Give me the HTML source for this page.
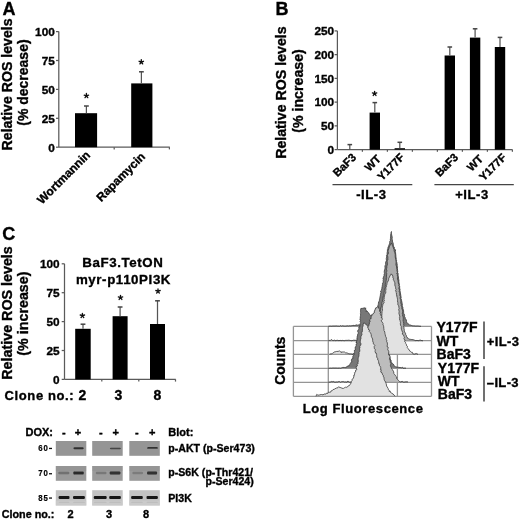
<!DOCTYPE html>
<html><head><meta charset="utf-8"><style>
html,body{margin:0;padding:0;background:#fff;}
svg{display:block;will-change:transform;font-family:"Liberation Sans",sans-serif;font-weight:bold;}
text{stroke:#000;stroke-width:0.35px;}
</style></head><body>
<svg width="520" height="524" viewBox="0 0 520 524" font-family="Liberation Sans, sans-serif" font-weight="bold">
<defs><filter id="soft" x="0" y="0" width="520" height="524" filterUnits="userSpaceOnUse"><feGaussianBlur stdDeviation="0.4"/></filter><filter id="bl" x="-20%" y="-100%" width="140%" height="300%"><feGaussianBlur stdDeviation="0.7"/></filter></defs>
<rect width="520" height="524" fill="#fff"/>
<g filter="url(#soft)">
<rect width="520" height="524" fill="#fff"/>
<text x="2.60" y="14.60" font-size="18" text-anchor="start" >A</text>
<line x1="58.80" y1="31.60" x2="58.80" y2="147.20" stroke="#5a5a5a" stroke-width="1.25"/>
<line x1="56.00" y1="147.20" x2="58.80" y2="147.20" stroke="#5a5a5a" stroke-width="1.25"/>
<text x="54.80" y="151.50" font-size="11.8" text-anchor="end" >0</text>
<line x1="56.00" y1="118.30" x2="58.80" y2="118.30" stroke="#5a5a5a" stroke-width="1.25"/>
<text x="54.80" y="122.60" font-size="11.8" text-anchor="end" >25</text>
<line x1="56.00" y1="89.40" x2="58.80" y2="89.40" stroke="#5a5a5a" stroke-width="1.25"/>
<text x="54.80" y="93.70" font-size="11.8" text-anchor="end" >50</text>
<line x1="56.00" y1="60.50" x2="58.80" y2="60.50" stroke="#5a5a5a" stroke-width="1.25"/>
<text x="54.80" y="64.80" font-size="11.8" text-anchor="end" >75</text>
<line x1="56.00" y1="31.60" x2="58.80" y2="31.60" stroke="#5a5a5a" stroke-width="1.25"/>
<text x="54.80" y="35.90" font-size="11.8" text-anchor="end" >100</text>
<line x1="58.80" y1="147.20" x2="169.80" y2="147.20" stroke="#5a5a5a" stroke-width="1.25"/>
<line x1="114.20" y1="147.20" x2="114.20" y2="149.40" stroke="#5a5a5a" stroke-width="1.25"/>
<line x1="169.40" y1="147.20" x2="169.40" y2="149.40" stroke="#5a5a5a" stroke-width="1.25"/>
<rect x="75.00" y="113.20" width="22.10" height="34.00" fill="#000"/>
<line x1="86.40" y1="113.20" x2="86.40" y2="106.00" stroke="#555" stroke-width="1.25"/>
<line x1="84.00" y1="106.00" x2="88.80" y2="106.00" stroke="#444" stroke-width="1.5"/>
<path d="M86.40,95.80 L86.40,93.50 M86.40,95.80 L88.59,95.09 M86.40,95.80 L87.75,97.66 M86.40,95.80 L85.05,97.66 M86.40,95.80 L84.21,95.09 " stroke="#111" stroke-width="1.35" stroke-linecap="round" fill="none"/>
<rect x="131.20" y="83.40" width="21.20" height="63.80" fill="#000"/>
<line x1="141.40" y1="83.40" x2="141.40" y2="71.80" stroke="#555" stroke-width="1.25"/>
<line x1="139.00" y1="71.80" x2="143.80" y2="71.80" stroke="#444" stroke-width="1.5"/>
<path d="M141.30,62.00 L141.30,59.70 M141.30,62.00 L143.49,61.29 M141.30,62.00 L142.65,63.86 M141.30,62.00 L139.95,63.86 M141.30,62.00 L139.11,61.29 " stroke="#111" stroke-width="1.35" stroke-linecap="round" fill="none"/>
<text x="12.00" y="84.40" font-size="14.15" text-anchor="middle" transform="rotate(-90 12.00 84.40)" >Relative ROS levels</text>
<text x="28.20" y="82.60" font-size="14" text-anchor="middle" transform="rotate(-90 28.20 82.60)" >(% decrease)</text>
<text x="90.90" y="155.90" font-size="11.9" text-anchor="end" transform="rotate(-45 90.90 155.90)" >Wortmannin</text>
<text x="146.00" y="157.30" font-size="11.9" text-anchor="end" transform="rotate(-45 146.00 157.30)" >Rapamycin</text>
<text x="275.60" y="15.30" font-size="18" text-anchor="start" >B</text>
<line x1="337.40" y1="30.90" x2="337.40" y2="149.60" stroke="#5a5a5a" stroke-width="1.25"/>
<line x1="334.60" y1="149.60" x2="337.40" y2="149.60" stroke="#5a5a5a" stroke-width="1.25"/>
<text x="334.10" y="153.90" font-size="11.8" text-anchor="end" >0</text>
<line x1="334.60" y1="125.86" x2="337.40" y2="125.86" stroke="#5a5a5a" stroke-width="1.25"/>
<text x="334.10" y="130.16" font-size="11.8" text-anchor="end" >50</text>
<line x1="334.60" y1="102.12" x2="337.40" y2="102.12" stroke="#5a5a5a" stroke-width="1.25"/>
<text x="334.10" y="106.42" font-size="11.8" text-anchor="end" >100</text>
<line x1="334.60" y1="78.38" x2="337.40" y2="78.38" stroke="#5a5a5a" stroke-width="1.25"/>
<text x="334.10" y="82.68" font-size="11.8" text-anchor="end" >150</text>
<line x1="334.60" y1="54.64" x2="337.40" y2="54.64" stroke="#5a5a5a" stroke-width="1.25"/>
<text x="334.10" y="58.94" font-size="11.8" text-anchor="end" >200</text>
<line x1="334.60" y1="30.90" x2="337.40" y2="30.90" stroke="#5a5a5a" stroke-width="1.25"/>
<text x="334.10" y="35.20" font-size="11.8" text-anchor="end" >250</text>
<line x1="337.40" y1="149.60" x2="512.50" y2="149.60" stroke="#5a5a5a" stroke-width="1.25"/>
<line x1="362.40" y1="149.60" x2="362.40" y2="151.80" stroke="#5a5a5a" stroke-width="1.25"/>
<line x1="387.40" y1="149.60" x2="387.40" y2="151.80" stroke="#5a5a5a" stroke-width="1.25"/>
<line x1="412.40" y1="149.60" x2="412.40" y2="151.80" stroke="#5a5a5a" stroke-width="1.25"/>
<line x1="437.40" y1="149.60" x2="437.40" y2="151.80" stroke="#5a5a5a" stroke-width="1.25"/>
<line x1="462.40" y1="149.60" x2="462.40" y2="151.80" stroke="#5a5a5a" stroke-width="1.25"/>
<line x1="487.40" y1="149.60" x2="487.40" y2="151.80" stroke="#5a5a5a" stroke-width="1.25"/>
<line x1="512.40" y1="149.60" x2="512.40" y2="151.80" stroke="#5a5a5a" stroke-width="1.25"/>
<line x1="349.80" y1="149.60" x2="349.80" y2="144.60" stroke="#555" stroke-width="1.25"/>
<line x1="347.50" y1="144.60" x2="352.10" y2="144.60" stroke="#444" stroke-width="1.5"/>
<rect x="369.60" y="112.60" width="10.40" height="37.00" fill="#000"/>
<line x1="374.80" y1="112.60" x2="374.80" y2="102.60" stroke="#555" stroke-width="1.25"/>
<line x1="372.50" y1="102.60" x2="377.10" y2="102.60" stroke="#444" stroke-width="1.5"/>
<path d="M374.60,93.60 L374.60,91.30 M374.60,93.60 L376.79,92.89 M374.60,93.60 L375.95,95.46 M374.60,93.60 L373.25,95.46 M374.60,93.60 L372.41,92.89 " stroke="#111" stroke-width="1.35" stroke-linecap="round" fill="none"/>
<rect x="394.60" y="148.20" width="10.40" height="1.40" fill="#000"/>
<line x1="399.80" y1="148.20" x2="399.80" y2="142.30" stroke="#555" stroke-width="1.25"/>
<line x1="397.50" y1="142.30" x2="402.10" y2="142.30" stroke="#444" stroke-width="1.5"/>
<rect x="444.60" y="55.50" width="10.40" height="94.10" fill="#000"/>
<line x1="449.80" y1="55.50" x2="449.80" y2="47.00" stroke="#555" stroke-width="1.25"/>
<line x1="447.50" y1="47.00" x2="452.10" y2="47.00" stroke="#444" stroke-width="1.5"/>
<rect x="469.90" y="37.60" width="10.40" height="112.00" fill="#000"/>
<line x1="475.10" y1="37.60" x2="475.10" y2="28.80" stroke="#555" stroke-width="1.25"/>
<line x1="472.80" y1="28.80" x2="477.40" y2="28.80" stroke="#444" stroke-width="1.5"/>
<rect x="494.80" y="47.00" width="10.40" height="102.60" fill="#000"/>
<line x1="500.00" y1="47.00" x2="500.00" y2="37.40" stroke="#555" stroke-width="1.25"/>
<line x1="497.70" y1="37.40" x2="502.30" y2="37.40" stroke="#444" stroke-width="1.5"/>
<text x="286.00" y="92.60" font-size="14.2" text-anchor="middle" transform="rotate(-90 286.00 92.60)" >Relative ROS levels</text>
<text x="303.20" y="91.00" font-size="14.2" text-anchor="middle" transform="rotate(-90 303.20 91.00)" >(% increase)</text>
<text x="356.80" y="158.00" font-size="11.2" text-anchor="end" transform="rotate(-45 356.80 158.00)" >BaF3</text>
<text x="381.50" y="159.60" font-size="11.2" text-anchor="end" transform="rotate(-45 381.50 159.60)" >WT</text>
<text x="405.20" y="158.00" font-size="11.2" text-anchor="end" transform="rotate(-45 405.20 158.00)" >Y177F</text>
<text x="459.00" y="158.00" font-size="11.2" text-anchor="end" transform="rotate(-45 459.00 158.00)" >BaF3</text>
<text x="483.90" y="159.60" font-size="11.2" text-anchor="end" transform="rotate(-45 483.90 159.60)" >WT</text>
<text x="507.00" y="158.20" font-size="11.2" text-anchor="end" transform="rotate(-45 507.00 158.20)" >Y177F</text>
<line x1="332.50" y1="184.70" x2="412.30" y2="184.70" stroke="#444" stroke-width="1.3"/>
<line x1="434.40" y1="184.70" x2="513.80" y2="184.70" stroke="#444" stroke-width="1.3"/>
<text x="371.40" y="198.90" font-size="13" text-anchor="middle" letter-spacing="0.6">-IL-3</text>
<text x="472.00" y="198.90" font-size="13" text-anchor="middle" letter-spacing="0.6">+IL-3</text>
<text x="2.20" y="240.40" font-size="18" text-anchor="start" >C</text>
<line x1="64.50" y1="263.80" x2="64.50" y2="379.40" stroke="#5a5a5a" stroke-width="1.25"/>
<line x1="61.70" y1="379.40" x2="64.50" y2="379.40" stroke="#5a5a5a" stroke-width="1.25"/>
<text x="59.60" y="383.90" font-size="11.8" text-anchor="end" >0</text>
<line x1="61.70" y1="350.50" x2="64.50" y2="350.50" stroke="#5a5a5a" stroke-width="1.25"/>
<text x="59.60" y="355.00" font-size="11.8" text-anchor="end" >25</text>
<line x1="61.70" y1="321.60" x2="64.50" y2="321.60" stroke="#5a5a5a" stroke-width="1.25"/>
<text x="59.60" y="326.10" font-size="11.8" text-anchor="end" >50</text>
<line x1="61.70" y1="292.70" x2="64.50" y2="292.70" stroke="#5a5a5a" stroke-width="1.25"/>
<text x="59.60" y="297.20" font-size="11.8" text-anchor="end" >75</text>
<line x1="61.70" y1="263.80" x2="64.50" y2="263.80" stroke="#5a5a5a" stroke-width="1.25"/>
<text x="59.60" y="268.30" font-size="11.8" text-anchor="end" >100</text>
<line x1="64.50" y1="379.40" x2="175.80" y2="379.40" stroke="#5a5a5a" stroke-width="1.25"/>
<line x1="101.80" y1="379.40" x2="101.80" y2="381.60" stroke="#5a5a5a" stroke-width="1.25"/>
<line x1="138.80" y1="379.40" x2="138.80" y2="381.60" stroke="#5a5a5a" stroke-width="1.25"/>
<line x1="175.50" y1="379.40" x2="175.50" y2="381.60" stroke="#5a5a5a" stroke-width="1.25"/>
<rect x="75.20" y="328.80" width="15.50" height="50.60" fill="#000"/>
<line x1="83.00" y1="328.80" x2="83.00" y2="324.20" stroke="#555" stroke-width="1.25"/>
<line x1="80.60" y1="324.20" x2="85.40" y2="324.20" stroke="#444" stroke-width="1.5"/>
<path d="M82.40,315.70 L82.40,313.40 M82.40,315.70 L84.59,314.99 M82.40,315.70 L83.75,317.56 M82.40,315.70 L81.05,317.56 M82.40,315.70 L80.21,314.99 " stroke="#111" stroke-width="1.35" stroke-linecap="round" fill="none"/>
<rect x="112.60" y="316.20" width="15.00" height="63.20" fill="#000"/>
<line x1="120.10" y1="316.20" x2="120.10" y2="307.00" stroke="#555" stroke-width="1.25"/>
<line x1="117.70" y1="307.00" x2="122.50" y2="307.00" stroke="#444" stroke-width="1.5"/>
<path d="M120.50,297.60 L120.50,295.30 M120.50,297.60 L122.69,296.89 M120.50,297.60 L121.85,299.46 M120.50,297.60 L119.15,299.46 M120.50,297.60 L118.31,296.89 " stroke="#111" stroke-width="1.35" stroke-linecap="round" fill="none"/>
<rect x="150.00" y="324.00" width="15.00" height="55.40" fill="#000"/>
<line x1="157.50" y1="324.00" x2="157.50" y2="300.80" stroke="#555" stroke-width="1.25"/>
<line x1="155.10" y1="300.80" x2="159.90" y2="300.80" stroke="#444" stroke-width="1.5"/>
<path d="M158.00,291.20 L158.00,288.90 M158.00,291.20 L160.19,290.49 M158.00,291.20 L159.35,293.06 M158.00,291.20 L156.65,293.06 M158.00,291.20 L155.81,290.49 " stroke="#111" stroke-width="1.35" stroke-linecap="round" fill="none"/>
<text x="11.90" y="313.00" font-size="14.3" text-anchor="middle" transform="rotate(-90 11.90 313.00)" >Relative ROS levels</text>
<text x="28.20" y="313.60" font-size="14.3" text-anchor="middle" transform="rotate(-90 28.20 313.60)" >(% increase)</text>
<text x="122.80" y="267.40" font-size="13.3" text-anchor="middle" letter-spacing="0.6">BaF3.TetON</text>
<text x="123.50" y="283.50" font-size="13.3" text-anchor="middle" letter-spacing="0.6">myr-p110PI3K</text>
<text x="4.60" y="400.00" font-size="13" text-anchor="start" letter-spacing="0.6">Clone no.:</text>
<text x="82.40" y="400.00" font-size="14" text-anchor="middle" >2</text>
<text x="118.30" y="400.00" font-size="14" text-anchor="middle" >3</text>
<text x="157.50" y="400.00" font-size="14" text-anchor="middle" >8</text>
<text x="25.50" y="436.20" font-size="11" text-anchor="start" >DOX:</text>
<text x="63.80" y="436.20" font-size="11" text-anchor="middle" >-</text>
<text x="100.80" y="436.20" font-size="11" text-anchor="middle" >-</text>
<text x="136.90" y="436.20" font-size="11" text-anchor="middle" >-</text>
<text x="78.00" y="436.20" font-size="11" text-anchor="middle" >+</text>
<text x="115.60" y="436.20" font-size="11" text-anchor="middle" >+</text>
<text x="152.30" y="436.20" font-size="11" text-anchor="middle" >+</text>
<text x="168.30" y="436.20" font-size="11" text-anchor="start" >Blot:</text>
<text x="48.50" y="451.00" font-size="9.8" text-anchor="end" letter-spacing="0.9" style="stroke-width:0.2px" transform="translate(48.5 0) scale(0.8 1) translate(-48.5 0)">60</text>
<rect x="49.00" y="447.80" width="3.00" height="1.30" fill="#111"/>
<text x="48.50" y="476.30" font-size="9.8" text-anchor="end" letter-spacing="0.9" style="stroke-width:0.2px" transform="translate(48.5 0) scale(0.8 1) translate(-48.5 0)">70</text>
<rect x="49.00" y="473.10" width="3.00" height="1.30" fill="#111"/>
<text x="48.50" y="500.60" font-size="9.8" text-anchor="end" letter-spacing="0.9" style="stroke-width:0.2px" transform="translate(48.5 0) scale(0.8 1) translate(-48.5 0)">85</text>
<rect x="49.00" y="497.40" width="3.00" height="1.30" fill="#111"/>
<text x="168.30" y="451.60" font-size="10.6" text-anchor="start" >p-AKT (p-Ser473)</text>
<text x="168.30" y="476.00" font-size="10.6" text-anchor="start" >p-S6K (p-Thr421/</text>
<text x="253.80" y="484.80" font-size="10.6" text-anchor="end" >p-Ser424)</text>
<text x="168.30" y="502.00" font-size="10.6" text-anchor="start" >PI3K</text>
<text x="1.70" y="518.00" font-size="10.8" text-anchor="start" >Clone no.:</text>
<text x="70.60" y="518.00" font-size="11" text-anchor="middle" >2</text>
<text x="109.00" y="518.00" font-size="11" text-anchor="middle" >3</text>
<text x="146.00" y="518.00" font-size="11" text-anchor="middle" >8</text>
<g><rect x="55.8" y="441.0" width="30.5" height="14.8" fill="#959595"/><rect x="55.8" y="466.0" width="30.5" height="14.8" fill="#9a9a9a"/><rect x="55.8" y="490.2" width="30.5" height="15.3" fill="#c2c2c2"/><rect x="55.8" y="466.0" width="30.5" height="5" fill="#8c8c8c" opacity="0.3"/><rect x="55.8" y="500.5" width="30.5" height="5" fill="#cdcdcd" opacity="0.7"/><rect x="92.2" y="441.0" width="30.5" height="14.8" fill="#959595"/><rect x="92.2" y="466.0" width="30.5" height="14.8" fill="#9a9a9a"/><rect x="92.2" y="490.2" width="30.5" height="15.3" fill="#c2c2c2"/><rect x="92.2" y="466.0" width="30.5" height="5" fill="#8c8c8c" opacity="0.3"/><rect x="92.2" y="500.5" width="30.5" height="5" fill="#cdcdcd" opacity="0.7"/><rect x="129.3" y="441.0" width="30.5" height="14.8" fill="#959595"/><rect x="129.3" y="466.0" width="30.5" height="14.8" fill="#9a9a9a"/><rect x="129.3" y="490.2" width="30.5" height="15.3" fill="#c2c2c2"/><rect x="129.3" y="466.0" width="30.5" height="5" fill="#8c8c8c" opacity="0.3"/><rect x="129.3" y="500.5" width="30.5" height="5" fill="#cdcdcd" opacity="0.7"/></g>
<g filter="url(#bl)"><rect x="73.5" y="447.35" width="10.099999999999994" height="1.9" rx="1" fill="#111" opacity="0.78"/><rect x="109.9" y="447.65" width="11.0" height="1.5" rx="1" fill="#111" opacity="0.62"/><rect x="147.2" y="446.95" width="10.700000000000017" height="1.9" rx="1" fill="#111" opacity="0.75"/><rect x="58.4" y="471.7" width="10.899999999999999" height="2.6" rx="1" fill="#111" opacity="0.33"/><rect x="73.3" y="471.45" width="10.5" height="3.1" rx="1" fill="#111" opacity="0.8"/><rect x="95.8" y="471.7" width="10.700000000000003" height="2.6" rx="1" fill="#111" opacity="0.22"/><rect x="109.7" y="471.45" width="10.700000000000003" height="3.1" rx="1" fill="#111" opacity="0.75"/><rect x="132.4" y="471.7" width="10.599999999999994" height="2.6" rx="1" fill="#111" opacity="0.2"/><rect x="147.0" y="471.45" width="10.099999999999994" height="3.1" rx="1" fill="#111" opacity="0.75"/><rect x="58.6" y="496.05" width="10.899999999999999" height="2.9" rx="1" fill="#111" opacity="0.95"/><rect x="73.0" y="496.05" width="11.900000000000006" height="2.9" rx="1" fill="#111" opacity="0.95"/><rect x="58.6" y="501.8" width="10.899999999999999" height="1.0" rx="1" fill="#111" opacity="0.08"/><rect x="73.0" y="501.8" width="11.900000000000006" height="1.0" rx="1" fill="#111" opacity="0.08"/><rect x="93.8" y="496.05" width="12.900000000000006" height="2.9" rx="1" fill="#111" opacity="0.95"/><rect x="109.2" y="496.05" width="11.700000000000003" height="2.9" rx="1" fill="#111" opacity="0.95"/><rect x="93.8" y="501.8" width="12.900000000000006" height="1.0" rx="1" fill="#111" opacity="0.08"/><rect x="109.2" y="501.8" width="11.700000000000003" height="1.0" rx="1" fill="#111" opacity="0.08"/><rect x="131.1" y="496.05" width="11.700000000000017" height="2.9" rx="1" fill="#111" opacity="0.95"/><rect x="146.5" y="496.05" width="11.400000000000006" height="2.9" rx="1" fill="#111" opacity="0.95"/><rect x="131.1" y="501.8" width="11.700000000000017" height="1.0" rx="1" fill="#111" opacity="0.08"/><rect x="146.5" y="501.8" width="11.400000000000006" height="1.0" rx="1" fill="#111" opacity="0.08"/></g>
<line x1="293.40" y1="326.40" x2="431.50" y2="326.40" stroke="#959595" stroke-width="1.3"/>
<line x1="293.40" y1="340.70" x2="431.50" y2="340.70" stroke="#959595" stroke-width="1.3"/>
<line x1="293.40" y1="354.40" x2="431.50" y2="354.40" stroke="#959595" stroke-width="1.3"/>
<line x1="293.40" y1="368.40" x2="431.50" y2="368.40" stroke="#959595" stroke-width="1.3"/>
<line x1="293.40" y1="382.30" x2="431.50" y2="382.30" stroke="#959595" stroke-width="1.3"/>
<line x1="293.40" y1="396.30" x2="431.50" y2="396.30" stroke="#959595" stroke-width="1.3"/>
<line x1="293.40" y1="326.40" x2="293.40" y2="396.30" stroke="#959595" stroke-width="1.3"/>
<line x1="431.50" y1="326.40" x2="431.50" y2="396.30" stroke="#959595" stroke-width="1.3"/>
<line x1="328.30" y1="326.40" x2="328.30" y2="396.30" stroke="#959595" stroke-width="1.3"/>
<line x1="397.40" y1="354.40" x2="397.40" y2="396.30" stroke="#959595" stroke-width="1.3"/>
<path d="M328.30,326.40 L329.26,326.28 L330.21,326.17 L331.17,326.30 L332.13,326.26 L333.09,325.98 L334.04,326.30 L335.00,325.90 L335.94,326.21 L336.88,325.93 L337.81,326.29 L338.75,326.22 L339.69,326.32 L340.62,325.65 L341.73,326.28 L342.60,325.81 L343.09,325.94 L344.28,326.15 L345.30,326.16 L346.12,326.09 L347.27,325.86 L348.47,326.07 L349.30,325.81 L349.85,325.83 L350.89,325.94 L351.87,325.63 L352.54,325.52 L353.88,325.37 L354.59,325.53 L355.16,325.36 L356.62,324.86 L357.21,325.15 L358.02,325.18 L359.08,324.70 L360.17,325.03 L361.08,324.85 L361.85,324.26 L362.41,324.02 L363.43,323.48 L364.19,323.04 L365.23,323.16 L365.82,322.28 L367.16,322.52 L368.12,321.52 L368.05,321.25 L368.96,320.23 L369.86,319.95 L370.25,319.06 L370.86,318.61 L371.46,317.67 L372.00,316.53 L372.70,316.31 L373.11,315.01 L373.25,314.69 L373.39,313.61 L374.33,312.51 L374.82,312.01 L374.84,311.09 L375.38,310.17 L375.85,309.14 L375.92,308.61 L376.86,307.52 L377.89,307.29 L377.84,305.72 L378.14,304.97 L378.34,304.28 L378.43,303.25 L378.61,301.84 L379.23,301.23 L379.45,300.18 L379.48,299.25 L379.75,298.30 L379.87,297.56 L379.99,296.71 L380.28,296.07 L380.41,294.69 L380.45,293.89 L380.88,292.93 L380.98,292.48 L380.59,291.00 L381.35,290.41 L381.55,289.36 L381.83,288.61 L381.80,288.15 L382.17,286.67 L382.28,285.84 L382.49,284.45 L382.54,284.29 L382.54,283.17 L383.10,282.44 L383.34,281.02 L383.11,280.39 L383.44,279.76 L382.92,278.85 L383.30,277.86 L383.43,276.85 L384.10,275.88 L384.04,275.16 L384.15,273.98 L384.55,273.21 L384.30,272.55 L384.25,271.18 L384.55,270.03 L384.92,269.04 L385.08,267.69 L384.82,267.12 L385.11,265.79 L385.16,265.25 L385.75,264.29 L385.56,263.00 L385.67,262.15 L386.33,260.82 L386.45,260.20 L386.21,258.61 L386.65,257.98 L386.36,257.08 L386.68,256.30 L386.55,255.23 L387.20,254.29 L387.01,252.85 L387.40,252.02 L387.37,251.28 L387.45,249.54 L387.62,248.73 L388.06,248.26 L387.98,247.30 L388.47,246.42 L388.77,245.49 L389.05,244.90 L389.50,243.57 L389.70,242.42 L389.64,241.51 L390.41,240.75 L390.28,239.96 L390.35,238.88 L390.49,238.36 L390.53,237.11 L390.80,235.96 L390.49,234.99 L391.09,233.87 L390.90,233.50 L391.32,232.40 L391.46,231.53 L391.18,232.09 L391.41,233.48 L391.55,234.02 L391.63,234.79 L391.88,235.76 L392.11,236.53 L392.25,237.87 L391.93,239.14 L392.40,239.55 L392.42,241.06 L392.71,242.16 L393.15,243.13 L393.27,244.27 L393.53,245.09 L393.18,246.18 L394.24,246.94 L394.26,248.39 L394.37,249.09 L395.58,249.81 L395.37,251.38 L395.34,252.11 L395.68,252.82 L395.62,254.06 L395.93,254.99 L395.86,255.80 L395.96,257.18 L396.19,257.83 L396.13,259.53 L396.66,260.13 L396.05,261.12 L396.80,262.34 L396.90,262.99 L397.04,263.61 L397.26,265.06 L397.03,266.27 L397.65,266.72 L397.27,268.06 L397.54,268.92 L397.41,270.42 L397.91,270.76 L397.53,272.34 L398.10,273.36 L398.16,273.83 L398.15,274.57 L398.08,275.99 L398.45,276.85 L398.45,278.09 L398.68,279.13 L398.77,279.94 L399.01,281.01 L398.81,281.87 L399.10,282.98 L399.25,283.91 L399.37,284.79 L399.20,285.81 L399.78,286.72 L399.65,287.63 L399.62,288.08 L399.94,289.18 L400.19,290.06 L399.64,290.97 L400.60,292.01 L400.13,292.85 L400.62,294.01 L400.67,295.11 L400.90,295.72 L400.99,296.97 L401.19,297.75 L400.89,298.42 L401.37,299.30 L401.56,300.39 L401.65,301.14 L402.09,302.34 L401.66,303.02 L402.42,303.82 L402.27,304.97 L402.30,305.43 L402.54,306.63 L402.93,307.60 L402.90,308.50 L403.21,309.26 L403.31,310.06 L403.64,310.79 L403.60,311.88 L403.66,312.66 L403.77,313.49 L404.51,314.61 L404.61,315.33 L404.57,316.62 L405.18,317.34 L405.12,317.96 L405.34,319.16 L406.29,319.62 L406.49,321.13 L406.55,321.63 L407.09,322.87 L407.77,323.58 L408.85,324.28 L409.69,325.03 L410.53,325.04 L411.15,325.29 L411.98,325.68 L413.15,326.00 L413.78,325.85 L415.08,326.10 L416.01,326.17 L417.06,326.06 L418.04,326.08 L419.03,326.24 L420.01,326.36 L421.00,326.40 Z" fill="#787878" stroke="none"/>
<line x1="328.30" y1="326.40" x2="421.00" y2="326.40" stroke="#959595" stroke-width="1.3"/>
<path d="M328.30,326.40 L329.26,326.28 L330.21,326.17 L331.17,326.30 L332.13,326.26 L333.09,325.98 L334.04,326.30 L335.00,325.90 L335.94,326.21 L336.88,325.93 L337.81,326.29 L338.75,326.22 L339.69,326.32 L340.62,325.65 L341.73,326.28 L342.60,325.81 L343.09,325.94 L344.28,326.15 L345.30,326.16 L346.12,326.09 L347.27,325.86 L348.47,326.07 L349.30,325.81 L349.85,325.83 L350.89,325.94 L351.87,325.63 L352.54,325.52 L353.88,325.37 L354.59,325.53 L355.16,325.36 L356.62,324.86 L357.21,325.15 L358.02,325.18 L359.08,324.70 L360.17,325.03 L361.08,324.85 L361.85,324.26 L362.41,324.02 L363.43,323.48 L364.19,323.04 L365.23,323.16 L365.82,322.28 L367.16,322.52 L368.12,321.52 L368.05,321.25 L368.96,320.23 L369.86,319.95 L370.25,319.06 L370.86,318.61 L371.46,317.67 L372.00,316.53 L372.70,316.31 L373.11,315.01 L373.25,314.69 L373.39,313.61 L374.33,312.51 L374.82,312.01 L374.84,311.09 L375.38,310.17 L375.85,309.14 L375.92,308.61 L376.86,307.52 L377.89,307.29 L377.84,305.72 L378.14,304.97 L378.34,304.28 L378.43,303.25 L378.61,301.84 L379.23,301.23 L379.45,300.18 L379.48,299.25 L379.75,298.30 L379.87,297.56 L379.99,296.71 L380.28,296.07 L380.41,294.69 L380.45,293.89 L380.88,292.93 L380.98,292.48 L380.59,291.00 L381.35,290.41 L381.55,289.36 L381.83,288.61 L381.80,288.15 L382.17,286.67 L382.28,285.84 L382.49,284.45 L382.54,284.29 L382.54,283.17 L383.10,282.44 L383.34,281.02 L383.11,280.39 L383.44,279.76 L382.92,278.85 L383.30,277.86 L383.43,276.85 L384.10,275.88 L384.04,275.16 L384.15,273.98 L384.55,273.21 L384.30,272.55 L384.25,271.18 L384.55,270.03 L384.92,269.04 L385.08,267.69 L384.82,267.12 L385.11,265.79 L385.16,265.25 L385.75,264.29 L385.56,263.00 L385.67,262.15 L386.33,260.82 L386.45,260.20 L386.21,258.61 L386.65,257.98 L386.36,257.08 L386.68,256.30 L386.55,255.23 L387.20,254.29 L387.01,252.85 L387.40,252.02 L387.37,251.28 L387.45,249.54 L387.62,248.73 L388.06,248.26 L387.98,247.30 L388.47,246.42 L388.77,245.49 L389.05,244.90 L389.50,243.57 L389.70,242.42 L389.64,241.51 L390.41,240.75 L390.28,239.96 L390.35,238.88 L390.49,238.36 L390.53,237.11 L390.80,235.96 L390.49,234.99 L391.09,233.87 L390.90,233.50 L391.32,232.40 L391.46,231.53 L391.18,232.09 L391.41,233.48 L391.55,234.02 L391.63,234.79 L391.88,235.76 L392.11,236.53 L392.25,237.87 L391.93,239.14 L392.40,239.55 L392.42,241.06 L392.71,242.16 L393.15,243.13 L393.27,244.27 L393.53,245.09 L393.18,246.18 L394.24,246.94 L394.26,248.39 L394.37,249.09 L395.58,249.81 L395.37,251.38 L395.34,252.11 L395.68,252.82 L395.62,254.06 L395.93,254.99 L395.86,255.80 L395.96,257.18 L396.19,257.83 L396.13,259.53 L396.66,260.13 L396.05,261.12 L396.80,262.34 L396.90,262.99 L397.04,263.61 L397.26,265.06 L397.03,266.27 L397.65,266.72 L397.27,268.06 L397.54,268.92 L397.41,270.42 L397.91,270.76 L397.53,272.34 L398.10,273.36 L398.16,273.83 L398.15,274.57 L398.08,275.99 L398.45,276.85 L398.45,278.09 L398.68,279.13 L398.77,279.94 L399.01,281.01 L398.81,281.87 L399.10,282.98 L399.25,283.91 L399.37,284.79 L399.20,285.81 L399.78,286.72 L399.65,287.63 L399.62,288.08 L399.94,289.18 L400.19,290.06 L399.64,290.97 L400.60,292.01 L400.13,292.85 L400.62,294.01 L400.67,295.11 L400.90,295.72 L400.99,296.97 L401.19,297.75 L400.89,298.42 L401.37,299.30 L401.56,300.39 L401.65,301.14 L402.09,302.34 L401.66,303.02 L402.42,303.82 L402.27,304.97 L402.30,305.43 L402.54,306.63 L402.93,307.60 L402.90,308.50 L403.21,309.26 L403.31,310.06 L403.64,310.79 L403.60,311.88 L403.66,312.66 L403.77,313.49 L404.51,314.61 L404.61,315.33 L404.57,316.62 L405.18,317.34 L405.12,317.96 L405.34,319.16 L406.29,319.62 L406.49,321.13 L406.55,321.63 L407.09,322.87 L407.77,323.58 L408.85,324.28 L409.69,325.03 L410.53,325.04 L411.15,325.29 L411.98,325.68 L413.15,326.00 L413.78,325.85 L415.08,326.10 L416.01,326.17 L417.06,326.06 L418.04,326.08 L419.03,326.24 L420.01,326.36 L421.00,326.40" fill="none" stroke="#3a3a3a" stroke-width="0.8" stroke-linejoin="round"/>
<path d="M328.30,340.70 L329.28,340.40 L330.25,340.62 L331.23,339.48 L332.20,340.26 L333.18,340.68 L334.15,340.02 L335.12,340.61 L336.10,340.63 L337.07,340.08 L338.05,340.59 L339.02,340.56 L340.00,340.49 L340.94,340.42 L341.88,340.68 L342.82,340.32 L343.76,340.64 L344.71,340.67 L345.65,340.37 L346.65,340.35 L347.26,340.39 L348.32,340.21 L349.39,340.31 L350.37,340.48 L351.21,340.81 L352.17,340.54 L353.20,340.51 L353.64,340.11 L355.11,340.35 L356.47,340.26 L357.16,340.15 L357.99,339.90 L358.67,339.70 L359.38,339.64 L360.30,339.25 L361.82,338.96 L362.30,339.03 L363.21,338.44 L364.15,338.52 L365.14,338.05 L366.05,337.93 L366.40,337.05 L367.01,336.68 L367.66,335.93 L368.40,335.06 L369.34,334.87 L369.90,333.86 L370.76,333.39 L371.36,333.10 L372.23,332.10 L372.91,331.34 L373.07,330.34 L373.35,329.26 L374.18,329.02 L374.03,327.58 L374.40,327.25 L375.09,326.14 L375.57,325.27 L375.87,324.43 L376.26,323.55 L377.06,322.79 L377.20,321.61 L377.53,320.79 L378.06,320.13 L377.98,318.98 L378.11,317.98 L378.43,317.32 L378.85,316.46 L379.42,315.30 L379.25,315.09 L379.13,313.52 L379.78,312.75 L380.08,311.77 L380.32,310.92 L380.65,309.62 L380.52,309.08 L380.68,307.94 L381.20,307.10 L381.40,306.46 L381.52,305.49 L381.63,304.18 L381.84,303.63 L381.93,302.60 L382.38,301.52 L382.55,301.14 L382.50,299.88 L382.78,299.23 L383.06,298.18 L383.04,297.09 L383.36,295.83 L383.83,295.45 L383.38,294.51 L383.88,293.54 L384.16,292.25 L384.23,291.93 L384.34,290.52 L384.36,289.57 L384.89,289.25 L385.09,288.05 L385.58,286.99 L385.14,286.29 L385.52,285.07 L385.31,284.42 L385.73,283.19 L385.78,282.44 L386.05,281.61 L386.07,280.66 L386.44,280.10 L386.29,279.08 L386.35,278.01 L386.68,277.39 L386.48,276.17 L386.62,274.97 L386.61,274.23 L386.71,273.23 L386.27,272.55 L386.74,271.53 L386.90,270.67 L386.62,269.91 L386.46,268.77 L386.80,268.17 L386.83,267.06 L386.80,266.06 L387.33,264.86 L387.54,263.87 L387.14,263.03 L387.40,261.75 L386.90,261.12 L387.59,260.12 L388.08,259.04 L387.72,258.19 L387.86,257.33 L387.65,255.92 L387.28,255.16 L387.96,254.18 L388.53,253.00 L388.12,251.90 L388.07,250.87 L388.43,250.01 L388.61,248.97 L389.08,248.10 L389.17,247.13 L389.47,245.77 L390.36,245.26 L390.44,244.55 L391.27,243.19 L391.96,244.40 L392.24,245.21 L392.47,245.69 L393.14,247.01 L393.34,248.07 L393.87,249.14 L394.23,249.99 L394.02,250.92 L394.74,252.27 L394.68,252.98 L395.22,253.93 L395.20,255.34 L395.21,256.25 L395.19,257.04 L395.45,258.02 L395.83,259.48 L395.60,259.88 L395.97,260.79 L396.10,262.11 L396.04,263.11 L395.89,264.15 L395.99,264.86 L396.29,265.92 L396.67,267.02 L396.52,268.11 L397.02,269.00 L396.87,270.25 L396.95,270.74 L397.50,272.44 L396.70,272.99 L397.28,274.19 L397.43,274.95 L397.23,276.02 L397.78,276.78 L397.51,278.00 L397.46,278.95 L397.90,280.09 L397.98,280.82 L398.18,281.99 L398.27,283.00 L398.67,284.15 L398.98,284.66 L398.67,285.23 L399.25,286.49 L398.98,287.65 L398.84,288.55 L399.22,289.00 L399.40,290.51 L399.09,291.34 L399.62,292.19 L399.79,293.26 L399.76,294.08 L399.84,294.96 L399.86,295.71 L400.48,296.73 L400.21,297.32 L400.20,298.49 L400.65,299.45 L400.68,300.26 L400.95,301.10 L400.68,302.27 L400.91,302.94 L400.94,303.84 L401.34,304.85 L401.12,305.75 L401.56,306.36 L401.83,307.39 L401.77,308.49 L402.25,309.08 L402.23,309.94 L402.76,310.90 L402.63,311.79 L402.65,313.28 L402.07,313.66 L402.77,314.65 L402.62,316.01 L402.87,316.17 L403.11,317.07 L403.26,318.22 L403.15,319.50 L403.24,319.89 L402.97,321.32 L403.55,321.84 L403.68,323.00 L403.75,323.35 L403.67,324.88 L403.99,325.78 L403.46,326.53 L404.16,327.91 L403.98,328.23 L404.29,329.38 L404.30,330.33 L404.34,331.05 L404.73,331.95 L405.03,332.51 L405.72,333.81 L405.72,334.71 L406.36,335.39 L406.48,336.61 L407.23,337.11 L407.33,338.10 L408.44,338.53 L408.94,339.25 L409.91,339.18 L410.85,339.45 L411.88,339.53 L413.13,339.68 L414.13,339.93 L415.07,340.59 L416.00,340.61 L417.00,340.37 L418.00,340.68 L419.00,340.63 L420.00,339.92 L421.00,340.43 L422.00,340.63 L423.00,340.70 Z" fill="#adadad" stroke="none"/>
<line x1="328.30" y1="340.70" x2="423.00" y2="340.70" stroke="#959595" stroke-width="1.3"/>
<path d="M328.30,340.70 L329.28,340.40 L330.25,340.62 L331.23,339.48 L332.20,340.26 L333.18,340.68 L334.15,340.02 L335.12,340.61 L336.10,340.63 L337.07,340.08 L338.05,340.59 L339.02,340.56 L340.00,340.49 L340.94,340.42 L341.88,340.68 L342.82,340.32 L343.76,340.64 L344.71,340.67 L345.65,340.37 L346.65,340.35 L347.26,340.39 L348.32,340.21 L349.39,340.31 L350.37,340.48 L351.21,340.81 L352.17,340.54 L353.20,340.51 L353.64,340.11 L355.11,340.35 L356.47,340.26 L357.16,340.15 L357.99,339.90 L358.67,339.70 L359.38,339.64 L360.30,339.25 L361.82,338.96 L362.30,339.03 L363.21,338.44 L364.15,338.52 L365.14,338.05 L366.05,337.93 L366.40,337.05 L367.01,336.68 L367.66,335.93 L368.40,335.06 L369.34,334.87 L369.90,333.86 L370.76,333.39 L371.36,333.10 L372.23,332.10 L372.91,331.34 L373.07,330.34 L373.35,329.26 L374.18,329.02 L374.03,327.58 L374.40,327.25 L375.09,326.14 L375.57,325.27 L375.87,324.43 L376.26,323.55 L377.06,322.79 L377.20,321.61 L377.53,320.79 L378.06,320.13 L377.98,318.98 L378.11,317.98 L378.43,317.32 L378.85,316.46 L379.42,315.30 L379.25,315.09 L379.13,313.52 L379.78,312.75 L380.08,311.77 L380.32,310.92 L380.65,309.62 L380.52,309.08 L380.68,307.94 L381.20,307.10 L381.40,306.46 L381.52,305.49 L381.63,304.18 L381.84,303.63 L381.93,302.60 L382.38,301.52 L382.55,301.14 L382.50,299.88 L382.78,299.23 L383.06,298.18 L383.04,297.09 L383.36,295.83 L383.83,295.45 L383.38,294.51 L383.88,293.54 L384.16,292.25 L384.23,291.93 L384.34,290.52 L384.36,289.57 L384.89,289.25 L385.09,288.05 L385.58,286.99 L385.14,286.29 L385.52,285.07 L385.31,284.42 L385.73,283.19 L385.78,282.44 L386.05,281.61 L386.07,280.66 L386.44,280.10 L386.29,279.08 L386.35,278.01 L386.68,277.39 L386.48,276.17 L386.62,274.97 L386.61,274.23 L386.71,273.23 L386.27,272.55 L386.74,271.53 L386.90,270.67 L386.62,269.91 L386.46,268.77 L386.80,268.17 L386.83,267.06 L386.80,266.06 L387.33,264.86 L387.54,263.87 L387.14,263.03 L387.40,261.75 L386.90,261.12 L387.59,260.12 L388.08,259.04 L387.72,258.19 L387.86,257.33 L387.65,255.92 L387.28,255.16 L387.96,254.18 L388.53,253.00 L388.12,251.90 L388.07,250.87 L388.43,250.01 L388.61,248.97 L389.08,248.10 L389.17,247.13 L389.47,245.77 L390.36,245.26 L390.44,244.55 L391.27,243.19 L391.96,244.40 L392.24,245.21 L392.47,245.69 L393.14,247.01 L393.34,248.07 L393.87,249.14 L394.23,249.99 L394.02,250.92 L394.74,252.27 L394.68,252.98 L395.22,253.93 L395.20,255.34 L395.21,256.25 L395.19,257.04 L395.45,258.02 L395.83,259.48 L395.60,259.88 L395.97,260.79 L396.10,262.11 L396.04,263.11 L395.89,264.15 L395.99,264.86 L396.29,265.92 L396.67,267.02 L396.52,268.11 L397.02,269.00 L396.87,270.25 L396.95,270.74 L397.50,272.44 L396.70,272.99 L397.28,274.19 L397.43,274.95 L397.23,276.02 L397.78,276.78 L397.51,278.00 L397.46,278.95 L397.90,280.09 L397.98,280.82 L398.18,281.99 L398.27,283.00 L398.67,284.15 L398.98,284.66 L398.67,285.23 L399.25,286.49 L398.98,287.65 L398.84,288.55 L399.22,289.00 L399.40,290.51 L399.09,291.34 L399.62,292.19 L399.79,293.26 L399.76,294.08 L399.84,294.96 L399.86,295.71 L400.48,296.73 L400.21,297.32 L400.20,298.49 L400.65,299.45 L400.68,300.26 L400.95,301.10 L400.68,302.27 L400.91,302.94 L400.94,303.84 L401.34,304.85 L401.12,305.75 L401.56,306.36 L401.83,307.39 L401.77,308.49 L402.25,309.08 L402.23,309.94 L402.76,310.90 L402.63,311.79 L402.65,313.28 L402.07,313.66 L402.77,314.65 L402.62,316.01 L402.87,316.17 L403.11,317.07 L403.26,318.22 L403.15,319.50 L403.24,319.89 L402.97,321.32 L403.55,321.84 L403.68,323.00 L403.75,323.35 L403.67,324.88 L403.99,325.78 L403.46,326.53 L404.16,327.91 L403.98,328.23 L404.29,329.38 L404.30,330.33 L404.34,331.05 L404.73,331.95 L405.03,332.51 L405.72,333.81 L405.72,334.71 L406.36,335.39 L406.48,336.61 L407.23,337.11 L407.33,338.10 L408.44,338.53 L408.94,339.25 L409.91,339.18 L410.85,339.45 L411.88,339.53 L413.13,339.68 L414.13,339.93 L415.07,340.59 L416.00,340.61 L417.00,340.37 L418.00,340.68 L419.00,340.63 L420.00,339.92 L421.00,340.43 L422.00,340.63 L423.00,340.70" fill="none" stroke="#3a3a3a" stroke-width="0.8" stroke-linejoin="round"/>
<path d="M329.60,354.40 L330.31,354.05 L331.52,353.88 L332.42,353.45 L332.91,352.89 L333.92,352.43 L334.95,351.63 L335.90,351.77 L336.71,351.39 L338.15,351.45 L339.62,350.82 L339.94,351.15 L341.29,352.60 L341.25,351.94 L343.16,352.07 L344.17,351.75 L345.26,352.79 L346.01,352.76 L347.19,353.05 L348.01,353.23 L348.21,353.55 L349.88,353.97 L350.50,353.91 L351.89,354.14 L352.99,354.64 L353.27,353.41 L354.72,354.39 L355.67,354.12 L356.13,353.61 L357.50,353.49 L357.61,353.41 L359.83,354.23 L359.79,353.38 L360.96,353.13 L362.17,353.09 L362.34,353.26 L363.38,352.69 L364.44,352.28 L365.43,351.93 L365.67,351.23 L366.73,351.42 L367.99,351.42 L368.89,350.89 L369.22,350.10 L369.55,349.71 L371.05,349.38 L371.60,348.62 L372.64,348.13 L373.31,347.76 L373.88,347.43 L374.37,346.38 L375.03,345.71 L376.47,345.93 L376.33,344.66 L376.99,343.82 L377.32,342.29 L377.08,341.90 L378.02,340.89 L377.65,339.84 L378.03,338.78 L379.00,337.94 L378.87,337.87 L379.54,336.41 L379.32,335.52 L380.11,334.63 L380.12,333.52 L380.02,332.48 L380.12,331.97 L379.69,330.61 L380.31,329.51 L380.27,328.96 L381.09,327.96 L380.71,326.35 L381.31,325.88 L380.84,324.57 L380.96,323.63 L381.12,323.14 L381.18,322.08 L380.99,321.43 L381.13,319.45 L381.34,318.77 L381.17,317.89 L381.64,316.65 L381.58,316.43 L381.90,314.95 L381.87,314.05 L381.94,313.40 L382.05,311.55 L382.20,311.10 L382.53,310.27 L382.51,310.20 L382.28,308.30 L382.29,307.01 L382.28,306.93 L382.78,305.35 L382.66,305.19 L383.02,303.97 L383.51,303.56 L384.14,302.54 L383.76,301.36 L384.41,300.81 L383.93,299.60 L384.26,298.55 L384.18,297.22 L384.32,296.23 L385.01,295.93 L384.43,295.26 L385.21,293.35 L385.65,293.24 L385.90,291.72 L385.62,291.31 L385.71,290.32 L386.14,288.92 L385.64,288.04 L386.02,287.36 L386.48,286.72 L386.56,285.52 L386.60,285.10 L387.15,283.94 L387.00,283.47 L387.32,282.19 L388.25,280.92 L388.55,279.67 L389.00,279.06 L388.62,278.20 L389.33,277.38 L389.90,275.95 L390.68,274.90 L391.18,273.83 L391.80,274.75 L392.16,274.67 L392.95,276.26 L392.57,277.03 L393.46,278.21 L393.22,279.24 L393.72,280.39 L393.95,280.76 L394.10,281.11 L394.76,282.61 L395.12,283.48 L394.71,283.61 L394.90,284.80 L395.00,286.08 L395.49,286.74 L395.59,287.68 L395.75,288.86 L396.12,289.34 L395.52,290.88 L396.15,291.70 L395.77,292.17 L396.42,292.75 L396.40,294.31 L397.02,295.48 L396.57,295.49 L397.11,297.10 L397.14,297.34 L397.44,298.87 L397.50,299.40 L397.55,300.69 L397.42,300.81 L397.82,302.42 L397.85,303.45 L397.80,304.07 L398.01,305.17 L398.71,305.83 L398.97,307.28 L398.72,307.90 L399.14,308.58 L398.70,309.23 L399.01,310.86 L399.15,311.49 L399.06,312.32 L398.82,313.50 L399.25,313.76 L399.27,314.75 L399.86,316.32 L399.29,317.28 L400.07,317.83 L399.45,318.78 L399.81,320.10 L399.99,320.39 L400.27,321.54 L400.57,322.64 L400.31,323.74 L400.57,325.39 L401.20,326.18 L401.25,326.54 L401.22,327.83 L401.29,329.15 L401.58,329.79 L401.79,330.38 L402.58,332.40 L402.75,332.71 L402.19,334.05 L403.66,335.09 L403.88,336.44 L404.21,336.73 L404.46,337.95 L403.95,338.46 L404.25,339.41 L405.12,339.98 L404.60,341.55 L405.60,342.46 L405.36,343.20 L406.65,344.34 L406.24,344.68 L406.70,345.80 L407.51,346.43 L407.24,347.52 L407.96,348.39 L408.63,349.59 L409.34,349.86 L409.90,351.21 L410.44,351.49 L411.76,352.42 L412.36,352.32 L412.62,353.47 L414.12,354.36 L414.74,354.14 L416.23,353.50 L417.00,354.03 L418.00,354.40 Z" fill="#e2e2e2" stroke="none"/>
<line x1="329.60" y1="354.40" x2="418.00" y2="354.40" stroke="#959595" stroke-width="1.3"/>
<path d="M329.60,354.40 L330.31,354.05 L331.52,353.88 L332.42,353.45 L332.91,352.89 L333.92,352.43 L334.95,351.63 L335.90,351.77 L336.71,351.39 L338.15,351.45 L339.62,350.82 L339.94,351.15 L341.29,352.60 L341.25,351.94 L343.16,352.07 L344.17,351.75 L345.26,352.79 L346.01,352.76 L347.19,353.05 L348.01,353.23 L348.21,353.55 L349.88,353.97 L350.50,353.91 L351.89,354.14 L352.99,354.64 L353.27,353.41 L354.72,354.39 L355.67,354.12 L356.13,353.61 L357.50,353.49 L357.61,353.41 L359.83,354.23 L359.79,353.38 L360.96,353.13 L362.17,353.09 L362.34,353.26 L363.38,352.69 L364.44,352.28 L365.43,351.93 L365.67,351.23 L366.73,351.42 L367.99,351.42 L368.89,350.89 L369.22,350.10 L369.55,349.71 L371.05,349.38 L371.60,348.62 L372.64,348.13 L373.31,347.76 L373.88,347.43 L374.37,346.38 L375.03,345.71 L376.47,345.93 L376.33,344.66 L376.99,343.82 L377.32,342.29 L377.08,341.90 L378.02,340.89 L377.65,339.84 L378.03,338.78 L379.00,337.94 L378.87,337.87 L379.54,336.41 L379.32,335.52 L380.11,334.63 L380.12,333.52 L380.02,332.48 L380.12,331.97 L379.69,330.61 L380.31,329.51 L380.27,328.96 L381.09,327.96 L380.71,326.35 L381.31,325.88 L380.84,324.57 L380.96,323.63 L381.12,323.14 L381.18,322.08 L380.99,321.43 L381.13,319.45 L381.34,318.77 L381.17,317.89 L381.64,316.65 L381.58,316.43 L381.90,314.95 L381.87,314.05 L381.94,313.40 L382.05,311.55 L382.20,311.10 L382.53,310.27 L382.51,310.20 L382.28,308.30 L382.29,307.01 L382.28,306.93 L382.78,305.35 L382.66,305.19 L383.02,303.97 L383.51,303.56 L384.14,302.54 L383.76,301.36 L384.41,300.81 L383.93,299.60 L384.26,298.55 L384.18,297.22 L384.32,296.23 L385.01,295.93 L384.43,295.26 L385.21,293.35 L385.65,293.24 L385.90,291.72 L385.62,291.31 L385.71,290.32 L386.14,288.92 L385.64,288.04 L386.02,287.36 L386.48,286.72 L386.56,285.52 L386.60,285.10 L387.15,283.94 L387.00,283.47 L387.32,282.19 L388.25,280.92 L388.55,279.67 L389.00,279.06 L388.62,278.20 L389.33,277.38 L389.90,275.95 L390.68,274.90 L391.18,273.83 L391.80,274.75 L392.16,274.67 L392.95,276.26 L392.57,277.03 L393.46,278.21 L393.22,279.24 L393.72,280.39 L393.95,280.76 L394.10,281.11 L394.76,282.61 L395.12,283.48 L394.71,283.61 L394.90,284.80 L395.00,286.08 L395.49,286.74 L395.59,287.68 L395.75,288.86 L396.12,289.34 L395.52,290.88 L396.15,291.70 L395.77,292.17 L396.42,292.75 L396.40,294.31 L397.02,295.48 L396.57,295.49 L397.11,297.10 L397.14,297.34 L397.44,298.87 L397.50,299.40 L397.55,300.69 L397.42,300.81 L397.82,302.42 L397.85,303.45 L397.80,304.07 L398.01,305.17 L398.71,305.83 L398.97,307.28 L398.72,307.90 L399.14,308.58 L398.70,309.23 L399.01,310.86 L399.15,311.49 L399.06,312.32 L398.82,313.50 L399.25,313.76 L399.27,314.75 L399.86,316.32 L399.29,317.28 L400.07,317.83 L399.45,318.78 L399.81,320.10 L399.99,320.39 L400.27,321.54 L400.57,322.64 L400.31,323.74 L400.57,325.39 L401.20,326.18 L401.25,326.54 L401.22,327.83 L401.29,329.15 L401.58,329.79 L401.79,330.38 L402.58,332.40 L402.75,332.71 L402.19,334.05 L403.66,335.09 L403.88,336.44 L404.21,336.73 L404.46,337.95 L403.95,338.46 L404.25,339.41 L405.12,339.98 L404.60,341.55 L405.60,342.46 L405.36,343.20 L406.65,344.34 L406.24,344.68 L406.70,345.80 L407.51,346.43 L407.24,347.52 L407.96,348.39 L408.63,349.59 L409.34,349.86 L409.90,351.21 L410.44,351.49 L411.76,352.42 L412.36,352.32 L412.62,353.47 L414.12,354.36 L414.74,354.14 L416.23,353.50 L417.00,354.03 L418.00,354.40" fill="none" stroke="#3a3a3a" stroke-width="0.8" stroke-linejoin="round"/>
<path d="M328.30,368.40 L329.26,368.33 L330.21,368.18 L331.17,368.33 L332.13,368.19 L333.09,368.04 L334.04,368.19 L335.00,368.11 L335.96,368.15 L336.92,368.16 L337.68,368.26 L339.40,368.09 L339.75,368.26 L340.63,368.30 L341.27,368.06 L342.50,367.48 L344.26,367.38 L345.21,367.83 L345.99,366.82 L346.78,367.23 L347.20,366.23 L348.98,365.90 L348.85,365.18 L349.66,364.74 L350.06,364.44 L350.39,363.23 L351.51,361.93 L351.86,362.14 L351.38,360.19 L351.85,359.00 L352.73,358.06 L353.10,358.29 L352.72,356.75 L352.97,356.20 L353.74,354.91 L354.23,354.26 L354.30,353.14 L354.43,352.24 L354.42,351.29 L354.37,350.16 L355.92,349.43 L355.02,348.56 L355.33,346.96 L355.62,346.86 L356.22,345.63 L355.97,344.36 L356.97,343.89 L356.30,342.16 L356.29,342.87 L356.50,341.07 L357.11,340.14 L357.07,338.82 L356.93,338.99 L357.17,337.80 L356.97,336.50 L357.79,336.06 L357.44,335.01 L358.10,333.64 L358.27,332.69 L358.01,332.06 L357.53,331.09 L358.32,329.68 L358.71,329.52 L358.91,328.76 L358.84,326.92 L359.98,326.59 L359.96,325.22 L360.10,324.66 L360.24,323.65 L360.62,322.47 L359.90,321.28 L360.68,320.63 L359.94,319.65 L360.19,318.63 L360.28,317.94 L360.22,316.92 L360.46,316.19 L360.53,315.53 L360.64,313.77 L360.37,313.35 L360.86,312.17 L360.38,311.71 L360.55,311.25 L360.55,310.34 L360.84,308.47 L362.43,308.35 L363.12,308.27 L364.07,307.82 L365.18,308.09 L366.14,308.33 L365.21,308.88 L366.39,310.32 L365.96,311.48 L367.05,311.01 L367.76,312.10 L368.78,312.92 L369.43,314.38 L369.90,314.97 L370.85,315.55 L371.85,314.74 L372.40,315.53 L373.52,316.69 L373.32,316.58 L373.98,317.85 L374.29,318.27 L374.55,319.53 L375.98,320.90 L376.66,320.61 L377.84,321.38 L378.06,321.87 L378.23,323.41 L379.24,324.38 L379.21,324.68 L379.47,325.89 L379.73,326.64 L381.05,327.83 L380.78,328.60 L381.31,328.85 L381.54,330.40 L382.85,330.70 L382.28,331.70 L383.70,333.08 L382.90,333.01 L383.13,334.96 L384.29,335.36 L383.67,336.19 L383.52,337.59 L384.07,338.55 L384.13,338.65 L385.10,339.73 L385.50,340.91 L385.04,342.04 L385.98,342.06 L386.55,343.81 L386.40,343.89 L386.11,345.33 L386.97,345.85 L386.51,346.56 L386.96,348.30 L386.68,348.88 L387.68,350.55 L388.02,350.81 L387.65,351.51 L388.12,352.80 L388.62,354.25 L389.02,354.21 L389.74,355.83 L389.55,356.10 L389.17,356.84 L390.46,357.77 L389.99,358.97 L390.85,359.96 L391.30,361.09 L391.09,361.79 L391.35,362.54 L392.38,363.25 L393.28,364.01 L393.95,365.19 L394.23,365.54 L394.54,366.42 L395.77,366.85 L397.92,367.34 L398.19,367.08 L398.71,367.53 L400.07,367.54 L401.56,367.79 L402.38,367.25 L403.00,368.25 L404.00,368.31 L405.00,368.13 L406.00,368.40 Z" fill="#787878" stroke="none"/>
<line x1="328.30" y1="368.40" x2="406.00" y2="368.40" stroke="#959595" stroke-width="1.3"/>
<path d="M328.30,368.40 L329.26,368.33 L330.21,368.18 L331.17,368.33 L332.13,368.19 L333.09,368.04 L334.04,368.19 L335.00,368.11 L335.96,368.15 L336.92,368.16 L337.68,368.26 L339.40,368.09 L339.75,368.26 L340.63,368.30 L341.27,368.06 L342.50,367.48 L344.26,367.38 L345.21,367.83 L345.99,366.82 L346.78,367.23 L347.20,366.23 L348.98,365.90 L348.85,365.18 L349.66,364.74 L350.06,364.44 L350.39,363.23 L351.51,361.93 L351.86,362.14 L351.38,360.19 L351.85,359.00 L352.73,358.06 L353.10,358.29 L352.72,356.75 L352.97,356.20 L353.74,354.91 L354.23,354.26 L354.30,353.14 L354.43,352.24 L354.42,351.29 L354.37,350.16 L355.92,349.43 L355.02,348.56 L355.33,346.96 L355.62,346.86 L356.22,345.63 L355.97,344.36 L356.97,343.89 L356.30,342.16 L356.29,342.87 L356.50,341.07 L357.11,340.14 L357.07,338.82 L356.93,338.99 L357.17,337.80 L356.97,336.50 L357.79,336.06 L357.44,335.01 L358.10,333.64 L358.27,332.69 L358.01,332.06 L357.53,331.09 L358.32,329.68 L358.71,329.52 L358.91,328.76 L358.84,326.92 L359.98,326.59 L359.96,325.22 L360.10,324.66 L360.24,323.65 L360.62,322.47 L359.90,321.28 L360.68,320.63 L359.94,319.65 L360.19,318.63 L360.28,317.94 L360.22,316.92 L360.46,316.19 L360.53,315.53 L360.64,313.77 L360.37,313.35 L360.86,312.17 L360.38,311.71 L360.55,311.25 L360.55,310.34 L360.84,308.47 L362.43,308.35 L363.12,308.27 L364.07,307.82 L365.18,308.09 L366.14,308.33 L365.21,308.88 L366.39,310.32 L365.96,311.48 L367.05,311.01 L367.76,312.10 L368.78,312.92 L369.43,314.38 L369.90,314.97 L370.85,315.55 L371.85,314.74 L372.40,315.53 L373.52,316.69 L373.32,316.58 L373.98,317.85 L374.29,318.27 L374.55,319.53 L375.98,320.90 L376.66,320.61 L377.84,321.38 L378.06,321.87 L378.23,323.41 L379.24,324.38 L379.21,324.68 L379.47,325.89 L379.73,326.64 L381.05,327.83 L380.78,328.60 L381.31,328.85 L381.54,330.40 L382.85,330.70 L382.28,331.70 L383.70,333.08 L382.90,333.01 L383.13,334.96 L384.29,335.36 L383.67,336.19 L383.52,337.59 L384.07,338.55 L384.13,338.65 L385.10,339.73 L385.50,340.91 L385.04,342.04 L385.98,342.06 L386.55,343.81 L386.40,343.89 L386.11,345.33 L386.97,345.85 L386.51,346.56 L386.96,348.30 L386.68,348.88 L387.68,350.55 L388.02,350.81 L387.65,351.51 L388.12,352.80 L388.62,354.25 L389.02,354.21 L389.74,355.83 L389.55,356.10 L389.17,356.84 L390.46,357.77 L389.99,358.97 L390.85,359.96 L391.30,361.09 L391.09,361.79 L391.35,362.54 L392.38,363.25 L393.28,364.01 L393.95,365.19 L394.23,365.54 L394.54,366.42 L395.77,366.85 L397.92,367.34 L398.19,367.08 L398.71,367.53 L400.07,367.54 L401.56,367.79 L402.38,367.25 L403.00,368.25 L404.00,368.31 L405.00,368.13 L406.00,368.40" fill="none" stroke="#3a3a3a" stroke-width="0.8" stroke-linejoin="round"/>
<path d="M328.30,382.30 L329.26,382.17 L330.21,382.23 L331.17,381.45 L332.13,381.98 L333.09,381.25 L334.04,382.02 L335.00,382.16 L335.92,382.21 L336.83,381.93 L337.75,382.04 L338.67,381.47 L339.58,381.52 L340.50,382.27 L341.42,381.72 L342.33,381.59 L343.25,381.43 L344.17,382.08 L345.08,381.91 L346.00,382.05 L346.92,382.22 L347.83,380.94 L348.75,382.00 L349.67,382.28 L350.58,382.18 L351.50,382.28 L352.58,382.25 L352.56,381.02 L353.66,380.42 L353.96,379.02 L354.44,379.15 L356.07,378.33 L355.48,377.32 L356.35,376.11 L356.60,376.01 L357.42,374.91 L357.72,373.86 L357.87,373.24 L358.35,372.35 L358.41,371.48 L358.54,371.47 L359.26,369.99 L360.19,369.48 L359.15,368.39 L360.29,367.96 L360.64,366.66 L359.95,365.18 L360.64,364.75 L360.37,363.53 L360.77,362.78 L361.21,361.75 L360.84,361.37 L362.01,359.99 L362.00,359.27 L362.05,358.38 L361.73,357.50 L362.54,356.08 L363.05,356.21 L363.18,355.27 L362.99,353.55 L362.70,352.47 L363.13,351.83 L363.51,350.23 L364.26,350.82 L363.63,349.35 L363.98,348.30 L363.93,347.26 L363.89,346.44 L364.36,345.57 L364.25,344.55 L364.74,343.82 L364.54,342.83 L365.44,341.97 L365.14,340.67 L365.37,340.17 L366.18,338.94 L365.59,338.20 L366.07,336.83 L365.92,336.19 L366.60,334.89 L366.19,334.56 L366.30,333.50 L367.03,332.50 L366.73,331.59 L367.16,330.81 L367.16,330.15 L367.05,328.78 L367.82,328.26 L367.79,327.19 L368.06,326.39 L369.12,325.13 L368.92,324.08 L369.36,323.97 L369.29,322.28 L369.67,322.22 L370.16,321.24 L369.40,319.85 L370.79,318.80 L370.94,319.02 L371.07,317.89 L371.21,316.20 L371.81,315.68 L372.36,315.12 L372.85,314.07 L373.52,313.12 L374.50,312.40 L374.35,311.30 L374.58,310.97 L375.35,308.87 L375.60,307.95 L376.64,307.88 L377.59,306.67 L378.43,307.00 L378.78,308.30 L379.33,309.09 L379.64,309.58 L379.54,311.36 L380.66,312.00 L380.29,313.29 L379.97,313.54 L381.14,314.96 L380.74,314.98 L381.81,316.60 L381.19,317.47 L382.02,317.46 L382.29,319.53 L381.37,320.45 L381.68,321.49 L382.64,322.79 L382.49,322.92 L383.28,323.61 L382.88,324.62 L383.31,325.29 L383.71,326.77 L383.78,328.10 L383.84,328.87 L383.98,329.60 L383.70,330.32 L384.52,330.99 L384.58,331.96 L384.75,332.23 L384.97,333.72 L385.18,334.45 L385.50,336.00 L385.64,336.46 L386.38,337.89 L386.41,338.86 L386.16,339.32 L386.84,340.08 L386.59,341.31 L386.95,341.99 L387.34,342.94 L387.40,344.34 L387.52,345.18 L387.03,345.43 L387.37,347.02 L388.25,347.39 L387.98,348.48 L387.76,349.65 L388.41,350.78 L388.72,351.33 L388.77,352.96 L388.62,353.77 L388.57,354.10 L388.80,355.15 L390.13,356.09 L389.86,357.21 L389.57,358.29 L389.36,359.24 L389.93,359.27 L390.18,360.88 L390.30,362.13 L390.17,362.64 L390.75,363.03 L391.08,363.72 L390.37,365.30 L390.62,365.96 L390.80,366.89 L391.36,367.86 L391.60,368.77 L392.43,369.50 L392.88,370.40 L392.82,370.32 L393.67,371.76 L393.88,373.11 L393.73,373.56 L394.59,374.33 L395.38,375.43 L395.44,375.91 L396.47,376.79 L396.85,377.96 L396.45,378.20 L397.58,379.47 L398.31,380.41 L398.86,380.77 L399.35,381.45 L400.20,381.82 L400.72,381.95 L402.14,381.31 L403.51,382.16 L404.13,382.29 L405.10,381.82 L406.07,382.09 L407.03,381.62 L408.00,382.30 Z" fill="#bdbdbd" stroke="none"/>
<line x1="328.30" y1="382.30" x2="408.00" y2="382.30" stroke="#959595" stroke-width="1.3"/>
<path d="M328.30,382.30 L329.26,382.17 L330.21,382.23 L331.17,381.45 L332.13,381.98 L333.09,381.25 L334.04,382.02 L335.00,382.16 L335.92,382.21 L336.83,381.93 L337.75,382.04 L338.67,381.47 L339.58,381.52 L340.50,382.27 L341.42,381.72 L342.33,381.59 L343.25,381.43 L344.17,382.08 L345.08,381.91 L346.00,382.05 L346.92,382.22 L347.83,380.94 L348.75,382.00 L349.67,382.28 L350.58,382.18 L351.50,382.28 L352.58,382.25 L352.56,381.02 L353.66,380.42 L353.96,379.02 L354.44,379.15 L356.07,378.33 L355.48,377.32 L356.35,376.11 L356.60,376.01 L357.42,374.91 L357.72,373.86 L357.87,373.24 L358.35,372.35 L358.41,371.48 L358.54,371.47 L359.26,369.99 L360.19,369.48 L359.15,368.39 L360.29,367.96 L360.64,366.66 L359.95,365.18 L360.64,364.75 L360.37,363.53 L360.77,362.78 L361.21,361.75 L360.84,361.37 L362.01,359.99 L362.00,359.27 L362.05,358.38 L361.73,357.50 L362.54,356.08 L363.05,356.21 L363.18,355.27 L362.99,353.55 L362.70,352.47 L363.13,351.83 L363.51,350.23 L364.26,350.82 L363.63,349.35 L363.98,348.30 L363.93,347.26 L363.89,346.44 L364.36,345.57 L364.25,344.55 L364.74,343.82 L364.54,342.83 L365.44,341.97 L365.14,340.67 L365.37,340.17 L366.18,338.94 L365.59,338.20 L366.07,336.83 L365.92,336.19 L366.60,334.89 L366.19,334.56 L366.30,333.50 L367.03,332.50 L366.73,331.59 L367.16,330.81 L367.16,330.15 L367.05,328.78 L367.82,328.26 L367.79,327.19 L368.06,326.39 L369.12,325.13 L368.92,324.08 L369.36,323.97 L369.29,322.28 L369.67,322.22 L370.16,321.24 L369.40,319.85 L370.79,318.80 L370.94,319.02 L371.07,317.89 L371.21,316.20 L371.81,315.68 L372.36,315.12 L372.85,314.07 L373.52,313.12 L374.50,312.40 L374.35,311.30 L374.58,310.97 L375.35,308.87 L375.60,307.95 L376.64,307.88 L377.59,306.67 L378.43,307.00 L378.78,308.30 L379.33,309.09 L379.64,309.58 L379.54,311.36 L380.66,312.00 L380.29,313.29 L379.97,313.54 L381.14,314.96 L380.74,314.98 L381.81,316.60 L381.19,317.47 L382.02,317.46 L382.29,319.53 L381.37,320.45 L381.68,321.49 L382.64,322.79 L382.49,322.92 L383.28,323.61 L382.88,324.62 L383.31,325.29 L383.71,326.77 L383.78,328.10 L383.84,328.87 L383.98,329.60 L383.70,330.32 L384.52,330.99 L384.58,331.96 L384.75,332.23 L384.97,333.72 L385.18,334.45 L385.50,336.00 L385.64,336.46 L386.38,337.89 L386.41,338.86 L386.16,339.32 L386.84,340.08 L386.59,341.31 L386.95,341.99 L387.34,342.94 L387.40,344.34 L387.52,345.18 L387.03,345.43 L387.37,347.02 L388.25,347.39 L387.98,348.48 L387.76,349.65 L388.41,350.78 L388.72,351.33 L388.77,352.96 L388.62,353.77 L388.57,354.10 L388.80,355.15 L390.13,356.09 L389.86,357.21 L389.57,358.29 L389.36,359.24 L389.93,359.27 L390.18,360.88 L390.30,362.13 L390.17,362.64 L390.75,363.03 L391.08,363.72 L390.37,365.30 L390.62,365.96 L390.80,366.89 L391.36,367.86 L391.60,368.77 L392.43,369.50 L392.88,370.40 L392.82,370.32 L393.67,371.76 L393.88,373.11 L393.73,373.56 L394.59,374.33 L395.38,375.43 L395.44,375.91 L396.47,376.79 L396.85,377.96 L396.45,378.20 L397.58,379.47 L398.31,380.41 L398.86,380.77 L399.35,381.45 L400.20,381.82 L400.72,381.95 L402.14,381.31 L403.51,382.16 L404.13,382.29 L405.10,381.82 L406.07,382.09 L407.03,381.62 L408.00,382.30" fill="none" stroke="#3a3a3a" stroke-width="0.8" stroke-linejoin="round"/>
<path d="M316.00,396.30 L316.71,394.38 L317.70,395.03 L318.95,395.16 L319.68,394.86 L321.37,394.50 L322.68,394.66 L322.62,394.98 L324.20,394.19 L325.26,393.76 L325.55,394.37 L326.66,393.09 L327.80,393.45 L328.49,392.07 L329.28,392.27 L330.57,392.19 L331.11,390.79 L332.09,390.80 L332.67,390.26 L333.04,389.61 L334.76,389.03 L336.24,387.99 L336.90,388.18 L338.07,387.47 L338.45,386.83 L340.59,387.70 L340.52,387.51 L341.83,388.11 L343.04,388.50 L343.57,388.35 L344.21,387.89 L345.53,387.22 L346.87,387.28 L348.50,385.83 L348.36,385.98 L349.04,385.75 L349.94,384.91 L350.23,384.37 L351.13,382.86 L351.25,382.08 L351.27,381.67 L352.04,380.72 L352.05,379.67 L352.38,378.93 L353.28,378.49 L353.82,376.68 L353.56,375.71 L354.17,375.81 L354.65,373.43 L354.32,372.83 L355.30,372.36 L355.58,372.06 L355.55,370.22 L356.89,369.72 L356.18,367.74 L356.17,366.44 L356.94,366.43 L357.48,365.48 L357.11,364.39 L358.23,363.15 L357.84,362.89 L358.22,361.86 L358.26,361.25 L358.12,359.77 L358.18,358.56 L358.26,357.76 L358.49,357.30 L358.96,355.64 L358.89,354.94 L359.13,353.87 L359.14,352.74 L358.96,352.24 L359.87,351.20 L359.75,350.09 L359.54,348.38 L360.03,348.07 L359.71,346.66 L360.45,345.37 L360.72,345.22 L361.03,343.75 L360.29,342.82 L360.45,341.93 L360.28,341.38 L360.40,339.82 L361.01,338.81 L360.80,338.12 L360.96,336.56 L361.19,335.92 L361.96,334.62 L361.84,333.72 L361.50,332.95 L361.84,332.43 L362.49,330.96 L362.47,330.60 L362.41,329.05 L362.57,328.34 L362.50,327.34 L362.73,326.89 L363.16,325.46 L363.38,325.07 L362.97,324.12 L364.13,322.69 L365.41,324.22 L366.60,324.33 L366.72,325.06 L367.77,326.42 L367.75,327.69 L368.23,328.35 L368.73,330.01 L369.78,330.30 L369.11,331.38 L370.07,332.34 L370.63,333.03 L371.14,334.36 L371.27,334.86 L371.33,336.24 L371.42,336.94 L371.84,337.51 L372.61,338.99 L372.71,340.31 L372.48,340.98 L373.33,342.19 L373.08,343.05 L373.76,344.17 L374.31,344.79 L374.89,345.50 L374.22,346.28 L374.27,347.29 L374.17,348.17 L375.21,349.45 L375.16,350.49 L375.29,350.85 L375.09,351.53 L375.69,353.21 L376.38,353.22 L376.63,354.63 L376.61,355.35 L376.83,356.02 L376.57,357.05 L377.86,358.44 L377.57,358.56 L377.84,360.00 L378.28,360.36 L378.53,361.36 L378.83,362.16 L378.39,363.19 L379.40,363.66 L379.35,365.21 L379.50,365.56 L380.57,366.93 L380.47,367.20 L380.92,367.83 L380.43,369.51 L381.31,369.81 L380.87,371.07 L380.79,372.12 L381.98,372.65 L382.32,373.96 L382.59,374.78 L383.34,375.34 L383.23,376.22 L383.87,377.16 L384.02,378.25 L384.23,379.68 L384.53,380.48 L385.18,381.35 L385.21,382.08 L385.90,382.43 L386.10,383.47 L386.37,384.82 L386.51,384.68 L386.53,385.97 L387.27,386.99 L388.05,388.45 L388.33,388.89 L388.35,389.80 L389.67,390.75 L389.17,391.30 L390.97,391.98 L390.55,392.30 L391.86,393.24 L392.00,393.50 L393.21,394.05 L393.98,395.21 L394.35,395.30 L395.00,396.30 Z" fill="#e2e2e2" stroke="none"/>
<line x1="316.00" y1="396.30" x2="395.00" y2="396.30" stroke="#959595" stroke-width="1.3"/>
<path d="M316.00,396.30 L316.71,394.38 L317.70,395.03 L318.95,395.16 L319.68,394.86 L321.37,394.50 L322.68,394.66 L322.62,394.98 L324.20,394.19 L325.26,393.76 L325.55,394.37 L326.66,393.09 L327.80,393.45 L328.49,392.07 L329.28,392.27 L330.57,392.19 L331.11,390.79 L332.09,390.80 L332.67,390.26 L333.04,389.61 L334.76,389.03 L336.24,387.99 L336.90,388.18 L338.07,387.47 L338.45,386.83 L340.59,387.70 L340.52,387.51 L341.83,388.11 L343.04,388.50 L343.57,388.35 L344.21,387.89 L345.53,387.22 L346.87,387.28 L348.50,385.83 L348.36,385.98 L349.04,385.75 L349.94,384.91 L350.23,384.37 L351.13,382.86 L351.25,382.08 L351.27,381.67 L352.04,380.72 L352.05,379.67 L352.38,378.93 L353.28,378.49 L353.82,376.68 L353.56,375.71 L354.17,375.81 L354.65,373.43 L354.32,372.83 L355.30,372.36 L355.58,372.06 L355.55,370.22 L356.89,369.72 L356.18,367.74 L356.17,366.44 L356.94,366.43 L357.48,365.48 L357.11,364.39 L358.23,363.15 L357.84,362.89 L358.22,361.86 L358.26,361.25 L358.12,359.77 L358.18,358.56 L358.26,357.76 L358.49,357.30 L358.96,355.64 L358.89,354.94 L359.13,353.87 L359.14,352.74 L358.96,352.24 L359.87,351.20 L359.75,350.09 L359.54,348.38 L360.03,348.07 L359.71,346.66 L360.45,345.37 L360.72,345.22 L361.03,343.75 L360.29,342.82 L360.45,341.93 L360.28,341.38 L360.40,339.82 L361.01,338.81 L360.80,338.12 L360.96,336.56 L361.19,335.92 L361.96,334.62 L361.84,333.72 L361.50,332.95 L361.84,332.43 L362.49,330.96 L362.47,330.60 L362.41,329.05 L362.57,328.34 L362.50,327.34 L362.73,326.89 L363.16,325.46 L363.38,325.07 L362.97,324.12 L364.13,322.69 L365.41,324.22 L366.60,324.33 L366.72,325.06 L367.77,326.42 L367.75,327.69 L368.23,328.35 L368.73,330.01 L369.78,330.30 L369.11,331.38 L370.07,332.34 L370.63,333.03 L371.14,334.36 L371.27,334.86 L371.33,336.24 L371.42,336.94 L371.84,337.51 L372.61,338.99 L372.71,340.31 L372.48,340.98 L373.33,342.19 L373.08,343.05 L373.76,344.17 L374.31,344.79 L374.89,345.50 L374.22,346.28 L374.27,347.29 L374.17,348.17 L375.21,349.45 L375.16,350.49 L375.29,350.85 L375.09,351.53 L375.69,353.21 L376.38,353.22 L376.63,354.63 L376.61,355.35 L376.83,356.02 L376.57,357.05 L377.86,358.44 L377.57,358.56 L377.84,360.00 L378.28,360.36 L378.53,361.36 L378.83,362.16 L378.39,363.19 L379.40,363.66 L379.35,365.21 L379.50,365.56 L380.57,366.93 L380.47,367.20 L380.92,367.83 L380.43,369.51 L381.31,369.81 L380.87,371.07 L380.79,372.12 L381.98,372.65 L382.32,373.96 L382.59,374.78 L383.34,375.34 L383.23,376.22 L383.87,377.16 L384.02,378.25 L384.23,379.68 L384.53,380.48 L385.18,381.35 L385.21,382.08 L385.90,382.43 L386.10,383.47 L386.37,384.82 L386.51,384.68 L386.53,385.97 L387.27,386.99 L388.05,388.45 L388.33,388.89 L388.35,389.80 L389.67,390.75 L389.17,391.30 L390.97,391.98 L390.55,392.30 L391.86,393.24 L392.00,393.50 L393.21,394.05 L393.98,395.21 L394.35,395.30 L395.00,396.30" fill="none" stroke="#3a3a3a" stroke-width="0.8" stroke-linejoin="round"/>
<text x="285.00" y="360.70" font-size="14" text-anchor="middle" transform="rotate(-90 285.00 360.70)" >Counts</text>
<text x="363.10" y="413.00" font-size="13" text-anchor="middle" letter-spacing="0.6">Log Fluorescence</text>
<text x="436.40" y="332.00" font-size="14" text-anchor="start" >Y177F</text>
<text x="436.60" y="345.80" font-size="14" text-anchor="start" >WT</text>
<text x="436.60" y="358.60" font-size="14" text-anchor="start" >BaF3</text>
<text x="437.80" y="373.00" font-size="14" text-anchor="start" >Y177F</text>
<text x="437.80" y="386.00" font-size="14" text-anchor="start" >WT</text>
<text x="437.80" y="399.00" font-size="14" text-anchor="start" >BaF3</text>
<line x1="484.00" y1="321.60" x2="484.00" y2="359.10" stroke="#222" stroke-width="1.3"/>
<line x1="484.00" y1="366.20" x2="484.00" y2="401.50" stroke="#222" stroke-width="1.3"/>
<text x="486.80" y="345.80" font-size="13" text-anchor="start" letter-spacing="0.35">+IL-3</text>
<text x="486.80" y="387.00" font-size="13" text-anchor="start" letter-spacing="0.35">–IL-3</text>
</g>
</svg>
</body></html>
